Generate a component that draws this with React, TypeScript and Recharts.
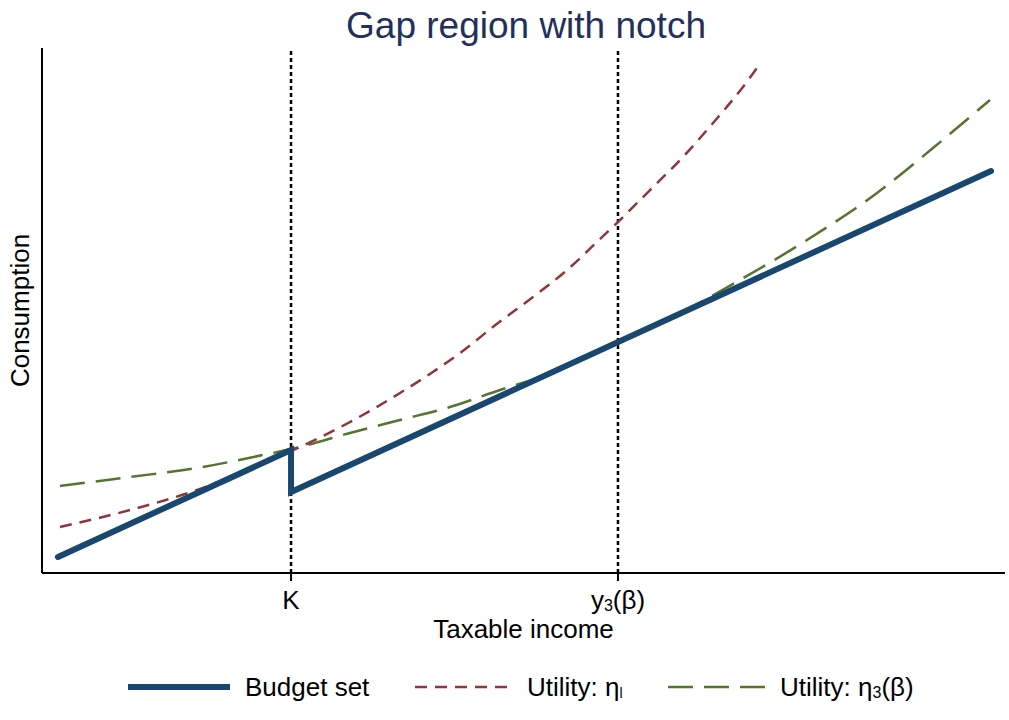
import React from 'react';
import { LineChart, Line, XAxis, YAxis, ReferenceLine, Legend } from 'recharts';

// x positions of the two marked incomes
const KINK = 25.86;
const Y3 = 59.81;
const X_TICKS = [KINK, Y3];

const budgetX = [1.66, 25.86, 25.86, 98.55];
const budgetY = [3.05, 23.43, 15.43, 76.57];

const etaLowX = [1.87, 9.14, 16.1, 22.95, 26.8, 37.18, 43.4, 47.56, 50.99, 54.52, 57.94, 59.81, 63.14, 66.56, 69.68, 72.79, 74.25];
const etaLowY = [8.76, 12.0, 15.81, 20.95, 24.0, 34.29, 41.9, 47.9, 52.57, 57.71, 63.6, 66.86, 72.95, 79.24, 85.71, 92.57, 96.19];

const eta3X = [1.87, 9.14, 16.1, 22.95, 26.8, 31.98, 37.18, 42.37, 47.56, 51.71, 59.81, 66.25, 72.48, 79.44, 86.71, 92.52, 98.44];
const eta3Y = [16.57, 18.29, 20.0, 22.48, 24.0, 26.67, 29.14, 31.62, 34.86, 37.33, 44.0, 49.52, 55.81, 63.43, 72.38, 80.95, 90.1];

const toPoints = (xs: number[], ys: number[]) => xs.map((x, i) => ({ x, y: ys[i] }));

const budgetData = toPoints(budgetX, budgetY);
const etaLowData = toPoints(etaLowX, etaLowY);
const eta3Data = toPoints(eta3X, eta3Y);

const FONT = '"Liberation Sans", Arial, sans-serif';
const NAVY = '#1a476f';
const MAROON = '#90353b';
const GREEN = '#55752f';
const LABEL_SIZE = 26;

const XTick = (props: any) => {
  const { x, y, payload } = props;
  const isK = Math.abs(payload.value - KINK) < 0.01;
  return (
    <text x={x} y={y + 26} textAnchor="middle" fontSize={LABEL_SIZE} fontFamily={FONT} fill="#000">
      {isK ? (
        'K'
      ) : (
        <>
          <tspan>y</tspan>
          <tspan fontSize={16} dy={2}>3</tspan>
          <tspan dy={-2}>(β)</tspan>
        </>
      )}
    </text>
  );
};

const XLabel = (props: any) => {
  const { viewBox } = props;
  return (
    <text x={viewBox.x + viewBox.width / 2} y={viewBox.y + 65} textAnchor="middle" fontSize={LABEL_SIZE} fontFamily={FONT} fill="#000">
      Taxable income
    </text>
  );
};

const YLabel = (props: any) => {
  const { viewBox } = props;
  const cx = 29;
  const cy = viewBox.y + viewBox.height / 2;
  return (
    <text x={cx} y={cy} transform={`rotate(-90, ${cx}, ${cy})`} textAnchor="middle" fontSize={LABEL_SIZE} fontFamily={FONT} fill="#000">
      Consumption
    </text>
  );
};

const LegendBox = () => (
  <svg width={1009} height={50} style={{ display: 'block' }}>
    <g fontFamily={FONT} fontSize={LABEL_SIZE} fill="#000">
      <line x1={128} x2={230} y1={25} y2={25} stroke={NAVY} strokeWidth={6} />
      <text x={245} y={34}>Budget set</text>
      <line x1={415} x2={513} y1={25} y2={25} stroke={MAROON} strokeWidth={2.5} strokeDasharray="12 8" />
      <text x={527} y={34}>
        <tspan>Utility: η</tspan>
        <tspan fontSize={14} dy={2}>l</tspan>
      </text>
      <line x1={668} x2={765} y1={25} y2={25} stroke={GREEN} strokeWidth={2.5} strokeDasharray="25 11" />
      <text x={780} y={34}>
        <tspan>Utility: η</tspan>
        <tspan fontSize={16} dy={2}>3</tspan>
        <tspan dy={-2}>(β)</tspan>
      </text>
    </g>
  </svg>
);

export default function App() {
  return (
    <div style={{ position: 'absolute', left: 0, top: 0, width: 1009, height: 720, background: '#fff' }}>
      <div
        style={{
          position: 'absolute',
          left: 0,
          top: 5,
          width: 1052,
          textAlign: 'center',
          fontFamily: FONT,
          fontSize: 37,
          color: '#23305a',
          lineHeight: '42px',
        }}
      >
        Gap region with notch
      </div>
      <LineChart width={1009} height={720} margin={{ top: 48, right: 4, left: 0, bottom: 8 }}>
        <XAxis
          type="number"
          dataKey="x"
          domain={[0, 100]}
          ticks={X_TICKS}
          tick={<XTick />}
          tickSize={8}
          tickLine={{ stroke: '#000', strokeWidth: 2 }}
          axisLine={{ stroke: '#000', strokeWidth: 2 }}
          height={89}
          allowDuplicatedCategory
          label={<XLabel />}
        />
        <YAxis
          type="number"
          dataKey="y"
          domain={[0, 100]}
          tick={false}
          tickLine={false}
          axisLine={{ stroke: '#000', strokeWidth: 2 }}
          width={42}
          label={<YLabel />}
        />
        <ReferenceLine x={KINK} stroke="#000" strokeWidth={2.5} strokeDasharray="4 3" />
        <ReferenceLine x={Y3} stroke="#000" strokeWidth={2.5} strokeDasharray="4 3" />
        <Line
          data={eta3Data}
          dataKey="y"
          type="monotone"
          stroke={GREEN}
          strokeWidth={2.5}
          strokeDasharray="25 11"
          dot={false}
          isAnimationActive={false}
        />
        <Line
          data={etaLowData}
          dataKey="y"
          type="monotone"
          stroke={MAROON}
          strokeWidth={2.5}
          strokeDasharray="12 8"
          dot={false}
          isAnimationActive={false}
        />
        <Line
          data={budgetData}
          dataKey="y"
          type="linear"
          stroke={NAVY}
          strokeWidth={6}
          strokeLinecap="round"
          dot={false}
          isAnimationActive={false}
        />
        <Legend verticalAlign="bottom" wrapperStyle={{ left: 0, width: 1009, height: 50 }} content={<LegendBox />} />
      </LineChart>
    </div>
  );
}
